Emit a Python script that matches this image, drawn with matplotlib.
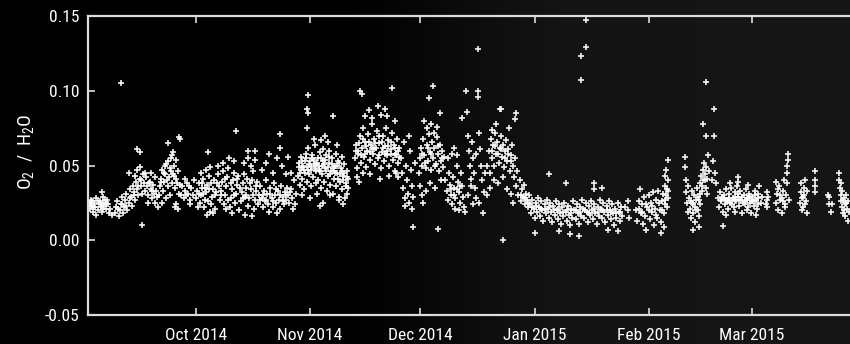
import numpy as np
import matplotlib
matplotlib.use("Agg")
import matplotlib.pyplot as plt
import matplotlib.dates as mdates
from matplotlib import font_manager

# O2/H2O measurements: (days since 2014-09-01, ratio)
sep_2014 = [
    (1.0, 0.024), (1.3, 0.021), (1.6, 0.027), (1.9, 0.023), (2.2, 0.019), (2.5, 0.025),
    (2.8, 0.022), (3.1, 0.028), (3.4, 0.020), (3.7, 0.024), (4.0, 0.026), (4.3, 0.022),
    (4.6, 0.019), (4.9, 0.025), (5.2, 0.023), (5.5, 0.027), (5.8, 0.021), (6.1, 0.024),
    (6.4, 0.018), (3.0, 0.017), (4.8, 0.029), (2.0, 0.026), (5.0, 0.021), (1.5, 0.023),
    (4.5, 0.032), (6.9, 0.021), (7.2, 0.017),
    (8.2, 0.018), (8.5, 0.022), (8.8, 0.026), (9.1, 0.016), (9.4, 0.020), (9.7, 0.024),
    (10.0, 0.029), (10.3, 0.018), (10.6, 0.022), (10.9, 0.027), (11.2, 0.031), (11.5, 0.020),
    (11.8, 0.025), (12.1, 0.034), (12.4, 0.029), (12.7, 0.023), (13.0, 0.036), (13.3, 0.032),
    (13.6, 0.027), (13.9, 0.039), (14.2, 0.034), (14.5, 0.030), (14.8, 0.041), (15.1, 0.036),
    (15.4, 0.031), (15.7, 0.044), (16.0, 0.038), (16.3, 0.033), (12.0, 0.045), (13.5, 0.043),
    (14.0, 0.047), (15.0, 0.049), (9.8, 0.105), (14.1, 0.061), (14.9, 0.059), (15.4, 0.010),
    (16.6, 0.042), (16.9, 0.036), (17.2, 0.030), (17.5, 0.039), (17.8, 0.034), (18.1, 0.028),
    (18.4, 0.037), (18.7, 0.031), (19.0, 0.025), (19.3, 0.033), (19.6, 0.029), (17.0, 0.025),
    (18.0, 0.045), (19.0, 0.042), (19.8, 0.022),
    (20.0, 0.030), (20.3, 0.036), (20.6, 0.041), (20.9, 0.047), (21.2, 0.033), (21.5, 0.039),
    (21.8, 0.044), (22.1, 0.051), (22.4, 0.036), (22.7, 0.042), (23.0, 0.048), (23.3, 0.055),
    (23.6, 0.038), (23.9, 0.044), (24.2, 0.050), (24.5, 0.035), (24.8, 0.041), (25.1, 0.046),
    (25.4, 0.031), (25.7, 0.037), (21.0, 0.025), (22.0, 0.028), (23.5, 0.057), (24.0, 0.059),
    (22.5, 0.053), (21.7, 0.050), (24.6, 0.054), (23.1, 0.030), (22.5, 0.065), (25.7, 0.068),
    (25.4, 0.069), (24.3, 0.022), (25.3, 0.021), (24.8, 0.024),
    (26.0, 0.030), (26.4, 0.036), (26.8, 0.028), (27.2, 0.033), (27.6, 0.038), (28.0, 0.031),
    (28.4, 0.027), (28.8, 0.035), (29.2, 0.030), (29.6, 0.040), (27.0, 0.041), (28.6, 0.024),
    (1.2, 0.025), (2.4, 0.022), (3.6, 0.026), (4.2, 0.024), (5.6, 0.024), (6.0, 0.027),
    (9.0, 0.021), (10.1, 0.024), (11.0, 0.023), (12.2, 0.028), (13.2, 0.030), (14.4, 0.036),
    (15.2, 0.040), (16.2, 0.045), (17.3, 0.038), (18.3, 0.033), (20.5, 0.039), (21.4, 0.045),
    (22.3, 0.040), (23.2, 0.046), (24.1, 0.043), (24.9, 0.038), (27.4, 0.030), (28.2, 0.036),
]

oct_2014 = [
    (30.2, 0.028), (30.5, 0.033), (30.8, 0.038), (31.1, 0.025), (31.4, 0.030), (31.7, 0.035),
    (32.0, 0.041), (32.3, 0.022), (32.6, 0.027), (32.9, 0.032), (33.2, 0.037), (33.5, 0.043),
    (33.8, 0.019), (34.1, 0.024), (34.4, 0.029), (34.7, 0.034), (35.0, 0.040), (35.3, 0.021),
    (30.6, 0.022), (31.5, 0.045), (32.8, 0.047), (34.0, 0.049), (33.0, 0.017), (34.6, 0.018),
    (31.9, 0.031), (33.6, 0.034), (33.3, 0.059),
    (35.6, 0.032), (35.9, 0.038), (36.2, 0.044), (36.5, 0.027), (36.8, 0.033), (37.1, 0.039),
    (37.4, 0.046), (37.7, 0.024), (38.0, 0.030), (38.3, 0.036), (38.6, 0.042), (38.9, 0.048),
    (39.2, 0.022), (39.5, 0.028), (39.8, 0.034), (40.1, 0.040), (40.4, 0.045), (40.7, 0.025),
    (41.0, 0.031), (41.3, 0.037), (41.6, 0.043), (41.9, 0.020), (36.0, 0.050), (37.5, 0.052),
    (39.0, 0.055), (40.5, 0.053), (38.2, 0.021), (40.0, 0.018), (41.0, 0.073),
    (42.2, 0.026), (42.5, 0.032), (42.8, 0.038), (43.1, 0.044), (43.4, 0.029), (43.7, 0.035),
    (44.0, 0.041), (44.3, 0.023), (44.6, 0.028), (44.9, 0.034), (45.2, 0.040), (45.5, 0.046),
    (45.8, 0.021), (46.1, 0.027), (46.4, 0.033), (46.7, 0.039), (47.0, 0.024), (47.3, 0.030),
    (44.2, 0.060), (46.1, 0.060), (44.2, 0.055), (46.1, 0.054), (43.0, 0.052), (45.0, 0.050),
    (43.5, 0.017), (45.3, 0.016),
    (47.6, 0.036), (47.9, 0.028), (48.2, 0.022), (48.5, 0.033), (48.8, 0.026), (49.1, 0.040),
    (49.4, 0.031), (49.7, 0.024), (50.0, 0.019), (50.3, 0.035), (50.6, 0.028), (50.9, 0.022),
    (51.2, 0.038), (51.5, 0.030), (51.8, 0.025), (52.1, 0.018), (52.4, 0.033), (52.7, 0.027),
    (53.0, 0.021), (53.3, 0.036), (53.6, 0.029), (53.9, 0.024), (54.2, 0.032), (54.5, 0.027),
    (54.8, 0.035), (55.1, 0.030), (55.4, 0.025), (48.0, 0.047), (49.0, 0.052), (50.0, 0.058),
    (51.0, 0.045), (52.0, 0.055), (52.9, 0.062), (53.5, 0.050), (54.5, 0.044), (55.0, 0.056),
    (52.9, 0.071),
    (55.8, 0.034), (56.2, 0.028), (56.6, 0.040), (57.0, 0.024), (57.3, 0.031), (56.4, 0.021),
    (55.9, 0.045),
    (30.9, 0.031), (31.8, 0.038), (32.5, 0.035), (33.4, 0.026), (34.3, 0.038), (35.2, 0.030),
    (36.3, 0.036), (37.0, 0.030), (37.9, 0.041), (38.8, 0.027), (39.6, 0.038), (40.3, 0.030),
    (41.2, 0.041), (42.0, 0.035), (42.9, 0.028), (43.8, 0.030), (44.7, 0.038), (45.6, 0.030),
    (46.5, 0.036), (47.4, 0.027), (48.3, 0.030), (49.2, 0.027), (50.1, 0.031), (51.0, 0.026),
    (51.9, 0.034), (52.8, 0.030), (53.7, 0.026), (54.6, 0.030), (55.5, 0.032),
]

nov_2014 = [
    (57.8, 0.043), (58.0, 0.052), (58.2, 0.037), (58.5, 0.047), (58.7, 0.056), (58.9, 0.041),
    (59.2, 0.050), (59.4, 0.034), (59.6, 0.045), (59.9, 0.058), (60.1, 0.039), (60.3, 0.049),
    (60.5, 0.062), (60.7, 0.044), (61.0, 0.053), (61.2, 0.036), (61.4, 0.047), (61.7, 0.057),
    (61.9, 0.042), (62.1, 0.051), (62.4, 0.064), (62.6, 0.038), (62.8, 0.046), (63.1, 0.055),
    (63.3, 0.040), (63.5, 0.050), (63.8, 0.059), (64.0, 0.035), (64.2, 0.044), (64.5, 0.053),
    (64.7, 0.061), (64.9, 0.039), (65.2, 0.048), (65.4, 0.057), (65.6, 0.033), (65.9, 0.043),
    (66.1, 0.052), (66.3, 0.060), (66.6, 0.037), (66.8, 0.046), (67.0, 0.055), (67.3, 0.031),
    (67.5, 0.041), (67.7, 0.050), (68.0, 0.058), (68.2, 0.036), (68.4, 0.045), (68.7, 0.053),
    (68.9, 0.029), (69.1, 0.039), (69.4, 0.048), (69.6, 0.056), (69.8, 0.034), (70.1, 0.043),
    (70.3, 0.051), (70.5, 0.028), (70.8, 0.038), (71.0, 0.046), (71.2, 0.031), (71.4, 0.041),
    (60.4, 0.097), (60.3, 0.088), (60.5, 0.085), (60.2, 0.075), (67.3, 0.083), (62.0, 0.068),
    (64.0, 0.067), (66.0, 0.066), (68.5, 0.064), (69.0, 0.027), (64.5, 0.025), (66.5, 0.030),
    (59.0, 0.030), (61.0, 0.028), (63.0, 0.031), (70.0, 0.024), (65.0, 0.070), (63.8, 0.023),
    (58.3, 0.045), (59.0, 0.049), (59.7, 0.053), (60.8, 0.051), (61.5, 0.055), (62.3, 0.048),
    (63.0, 0.052), (63.7, 0.046), (64.4, 0.050), (65.0, 0.054), (65.8, 0.049), (66.4, 0.044),
    (67.2, 0.048), (67.9, 0.045), (68.6, 0.041), (69.3, 0.044), (70.0, 0.040), (70.7, 0.036),
    (71.3, 0.035),
    (58.1, 0.049), (58.8, 0.053), (59.5, 0.047), (60.0, 0.055), (60.6, 0.047), (61.3, 0.050),
    (62.0, 0.054), (62.7, 0.051), (63.4, 0.047), (64.1, 0.055), (64.8, 0.051), (65.5, 0.046),
    (66.2, 0.056), (66.9, 0.051), (67.6, 0.046), (68.3, 0.050), (69.0, 0.052), (69.7, 0.046),
    (70.4, 0.045), (71.1, 0.042),
    (73.3, 0.055), (73.6, 0.064), (73.9, 0.048), (74.2, 0.058), (74.5, 0.070), (74.8, 0.052),
    (75.1, 0.062), (75.4, 0.075), (75.7, 0.056), (76.0, 0.066), (76.3, 0.049), (76.6, 0.060),
    (76.9, 0.071), (77.2, 0.054), (77.5, 0.064), (77.8, 0.078), (78.1, 0.058), (78.4, 0.068),
    (78.7, 0.051), (79.0, 0.062), (79.3, 0.073), (79.6, 0.055), (79.9, 0.065), (80.2, 0.048),
    (80.5, 0.059), (80.8, 0.070), (81.1, 0.053), (81.4, 0.063), (81.7, 0.075), (82.0, 0.057),
    (82.3, 0.067), (82.6, 0.050), (82.9, 0.061), (83.2, 0.072), (83.5, 0.054), (83.8, 0.064),
    (84.1, 0.046), (84.4, 0.058), (84.7, 0.068), (85.0, 0.052), (85.3, 0.062),
    (74.6, 0.100), (75.2, 0.098), (77.0, 0.087), (79.5, 0.090), (80.3, 0.084), (81.5, 0.088),
    (83.2, 0.102), (82.0, 0.083), (84.0, 0.080), (76.0, 0.083), (78.0, 0.082), (73.8, 0.042),
    (74.3, 0.039), (75.5, 0.045), (77.4, 0.044), (85.0, 0.042), (84.5, 0.045), (80.0, 0.041),
    (82.5, 0.043), (74.0, 0.060), (75.0, 0.057), (76.2, 0.063), (77.3, 0.059), (78.5, 0.061),
    (79.7, 0.057), (80.8, 0.062), (81.9, 0.060), (83.0, 0.058), (84.2, 0.062), (85.2, 0.056),
    (73.5, 0.060), (74.4, 0.065), (75.3, 0.068), (76.1, 0.058), (77.0, 0.066), (77.9, 0.062),
    (78.8, 0.065), (79.8, 0.070), (80.6, 0.066), (81.3, 0.058), (82.2, 0.063), (83.1, 0.066),
    (84.0, 0.057), (84.9, 0.060),
    (85.8, 0.055), (86.1, 0.045), (86.4, 0.035), (86.7, 0.028), (87.0, 0.050), (87.3, 0.040),
    (87.6, 0.031), (87.9, 0.025), (88.2, 0.060), (88.5, 0.047), (88.8, 0.036), (89.1, 0.029),
    (89.4, 0.052), (86.5, 0.066), (88.0, 0.070), (89.0, 0.009), (86.9, 0.023), (88.6, 0.021),
]

dec_2014 = [
    (90.6, 0.045), (90.9, 0.055), (91.2, 0.062), (91.5, 0.050), (91.8, 0.068), (92.1, 0.057),
    (92.4, 0.048), (92.7, 0.064), (93.0, 0.053), (93.3, 0.071), (93.6, 0.059), (93.9, 0.047),
    (94.2, 0.066), (94.5, 0.055), (94.8, 0.062), (95.1, 0.051), (95.4, 0.069), (95.7, 0.058),
    (96.0, 0.046), (96.3, 0.064), (96.6, 0.053), (96.9, 0.060), (97.2, 0.049), (97.5, 0.056),
    (94.4, 0.103), (93.3, 0.095), (96.3, 0.085), (92.0, 0.080), (94.0, 0.078), (95.5, 0.076),
    (91.0, 0.036), (91.3, 0.030), (91.6, 0.025), (92.5, 0.033), (93.5, 0.038), (95.0, 0.035),
    (96.5, 0.040), (95.8, 0.0075), (94.6, 0.072), (92.9, 0.075),
    (91.4, 0.058), (92.2, 0.052), (93.1, 0.062), (94.0, 0.058), (94.9, 0.050), (95.9, 0.063),
    (96.8, 0.055),
    (97.8, 0.040), (98.1, 0.033), (98.4, 0.027), (98.7, 0.045), (99.0, 0.037), (99.3, 0.030),
    (99.6, 0.024), (99.9, 0.042), (100.2, 0.035), (100.5, 0.028), (100.8, 0.050), (101.1, 0.039),
    (101.4, 0.032), (101.7, 0.025), (102.0, 0.045), (102.3, 0.036), (102.6, 0.029), (102.9, 0.022),
    (98.5, 0.055), (99.5, 0.058), (100.0, 0.062), (101.0, 0.057), (101.6, 0.020), (100.3, 0.021),
    (99.2, 0.034), (100.1, 0.030), (100.9, 0.034), (101.8, 0.036),
    (102.4, 0.082), (103.3, 0.100), (103.6, 0.086), (103.8, 0.070), (104.1, 0.060), (104.4, 0.050),
    (104.7, 0.041), (105.0, 0.066), (105.3, 0.055), (105.6, 0.045), (105.9, 0.035), (106.2, 0.028),
    (106.5, 0.100), (106.6, 0.096), (106.7, 0.128), (106.8, 0.072), (107.1, 0.061), (107.4, 0.050),
    (107.7, 0.040), (108.0, 0.018), (108.3, 0.032), (108.6, 0.045), (104.0, 0.030), (103.0, 0.019),
    (105.2, 0.024), (107.0, 0.025), (104.6, 0.036), (106.0, 0.058),
    (109.2, 0.050), (109.5, 0.060), (109.8, 0.045), (110.1, 0.068), (110.4, 0.055), (110.7, 0.064),
    (111.0, 0.050), (111.3, 0.072), (111.6, 0.058), (111.9, 0.066), (112.2, 0.052), (112.5, 0.062),
    (112.8, 0.070), (113.1, 0.056), (113.4, 0.064), (113.7, 0.049), (114.0, 0.060), (114.3, 0.067),
    (114.6, 0.053), (114.9, 0.061), (115.2, 0.046), (115.5, 0.057), (115.8, 0.064), (116.1, 0.050),
    (116.4, 0.042), (116.7, 0.055), (117.0, 0.036), (117.3, 0.046), (117.6, 0.030), (117.9, 0.040),
    (118.2, 0.026), (118.5, 0.034), (118.8, 0.029), (119.1, 0.037), (119.4, 0.024), (119.7, 0.031),
    (120.0, 0.027), (120.3, 0.022), (120.6, 0.030), (113.0, 0.088), (112.6, 0.088), (117.0, 0.085),
    (116.8, 0.081), (111.5, 0.078), (110.5, 0.074), (115.0, 0.075), (110.0, 0.035), (111.0, 0.040),
    (112.0, 0.038), (113.5, 0.042), (114.5, 0.034), (115.5, 0.031), (116.0, 0.025), (113.3, 0.000),
    (109.0, 0.030),
    (110.3, 0.060), (111.2, 0.063), (112.1, 0.058), (113.0, 0.061), (113.9, 0.055), (114.8, 0.058),
    (115.7, 0.053), (118.4, 0.030), (119.3, 0.028), (120.2, 0.025),
]

jan_2015 = [
    (120.8, 0.024), (121.1, 0.018), (121.4, 0.027), (121.7, 0.021), (122.0, 0.015), (122.3, 0.025),
    (122.6, 0.019), (122.9, 0.028), (123.2, 0.022), (123.5, 0.016), (123.8, 0.026), (124.1, 0.020),
    (124.4, 0.013), (124.7, 0.024), (125.0, 0.018), (125.3, 0.027), (125.6, 0.021), (125.9, 0.015),
    (126.2, 0.025), (126.5, 0.019), (126.8, 0.012), (127.1, 0.023), (127.4, 0.017), (127.7, 0.026),
    (128.0, 0.020), (128.3, 0.014), (128.6, 0.024), (128.9, 0.018), (129.2, 0.011), (129.5, 0.022),
    (129.8, 0.016), (130.1, 0.025), (130.4, 0.019), (130.7, 0.013), (131.0, 0.023), (131.3, 0.017),
    (131.6, 0.010), (131.9, 0.021), (132.2, 0.015), (132.5, 0.026), (132.8, 0.020), (133.1, 0.014),
    (133.4, 0.024), (133.7, 0.018), (134.0, 0.011), (134.3, 0.022), (134.6, 0.016), (134.9, 0.027),
    (135.2, 0.021), (135.5, 0.015), (135.8, 0.025), (136.1, 0.019), (136.4, 0.012), (136.7, 0.023),
    (137.0, 0.017), (137.3, 0.026), (137.6, 0.020), (137.9, 0.014), (138.2, 0.024), (138.5, 0.018),
    (138.8, 0.011), (139.1, 0.022), (139.4, 0.016), (139.7, 0.027), (140.0, 0.021), (140.3, 0.015),
    (140.6, 0.025), (140.9, 0.019), (141.2, 0.012), (141.5, 0.023), (141.8, 0.017), (142.1, 0.026),
    (142.4, 0.020), (142.7, 0.014), (143.0, 0.024), (143.3, 0.018), (143.6, 0.010), (143.9, 0.021),
    (144.2, 0.015), (144.5, 0.025), (144.8, 0.019), (145.1, 0.013), (145.4, 0.022), (145.7, 0.016),
    (126.0, 0.044), (130.6, 0.038), (138.1, 0.038), (138.2, 0.034), (140.3, 0.035), (134.5, 0.123),
    (134.5, 0.107), (136.0, 0.147), (136.0, 0.129), (122.1, 0.005), (128.5, 0.006), (131.5, 0.004),
    (134.0, 0.003), (142.0, 0.007), (144.5, 0.006), (146.5, 0.022), (147.2, 0.026), (147.4, 0.020),
    (147.6, 0.015),
    (121.2, 0.022), (122.5, 0.023), (123.6, 0.021), (124.8, 0.021), (126.0, 0.022), (127.2, 0.020),
    (128.4, 0.021), (129.6, 0.019), (130.8, 0.020), (132.0, 0.018), (133.2, 0.020), (134.4, 0.019),
    (135.6, 0.020), (136.8, 0.018), (138.0, 0.021), (139.2, 0.019), (140.4, 0.020), (141.6, 0.020),
    (142.8, 0.019), (144.0, 0.018), (145.2, 0.019),
]

feb_2015 = [
    (149.6, 0.020), (149.9, 0.013), (150.2, 0.026), (150.5, 0.034), (150.8, 0.018), (151.1, 0.024),
    (151.4, 0.011), (151.7, 0.029), (152.0, 0.016), (152.3, 0.007), (152.6, 0.022), (152.9, 0.030),
    (153.2, 0.014), (153.5, 0.025), (153.8, 0.019), (154.1, 0.032), (154.4, 0.010), (154.7, 0.021),
    (155.0, 0.027), (155.3, 0.015), (155.6, 0.033), (155.9, 0.020), (156.2, 0.012), (156.3, 0.005),
    (156.5, 0.026), (156.8, 0.031), (157.1, 0.018), (157.3, 0.036), (157.5, 0.024), (157.7, 0.030),
    (157.9, 0.034), (158.1, 0.040), (158.2, 0.054), (157.6, 0.047), (158.3, 0.028), (158.0, 0.022),
    (157.2, 0.009), (157.4, 0.043),
    (150.3, 0.021), (151.2, 0.019), (152.1, 0.024), (153.0, 0.020), (153.9, 0.023), (154.8, 0.017),
    (155.7, 0.025), (156.6, 0.020), (157.5, 0.027), (158.2, 0.033),
    (162.8, 0.056), (162.8, 0.049), (163.0, 0.040), (163.1, 0.032), (163.3, 0.025), (163.5, 0.019),
    (163.7, 0.036), (164.0, 0.028), (164.2, 0.021), (164.4, 0.015), (164.6, 0.033), (164.8, 0.025),
    (165.0, 0.018), (165.2, 0.030), (165.4, 0.022), (165.6, 0.012), (165.8, 0.027), (166.0, 0.035),
    (166.2, 0.020), (166.4, 0.029), (166.6, 0.009), (166.8, 0.038), (167.0, 0.031), (167.2, 0.043),
    (167.4, 0.036), (167.6, 0.078), (167.6, 0.047), (167.8, 0.040), (168.0, 0.052), (168.2, 0.044),
    (168.4, 0.106), (168.4, 0.070), (168.4, 0.035), (168.6, 0.049), (168.8, 0.041), (169.0, 0.057),
    (169.4, 0.046), (170.0, 0.040), (170.3, 0.053), (170.7, 0.088), (170.6, 0.070), (171.0, 0.045),
    (171.3, 0.038), (166.5, 0.016), (167.0, 0.024), (165.0, 0.007),
    (164.3, 0.026), (165.1, 0.024), (165.9, 0.020), (166.7, 0.027), (167.5, 0.033), (168.3, 0.040),
    (168.7, 0.031),
]

mar_2015 = [
    (171.8, 0.028), (172.1, 0.022), (172.4, 0.032), (172.7, 0.026), (173.0, 0.019), (173.0, 0.0097),
    (173.3, 0.030), (173.6, 0.024), (173.9, 0.034), (174.2, 0.027), (174.5, 0.021), (174.8, 0.031),
    (175.1, 0.025), (175.4, 0.035), (175.7, 0.028), (176.0, 0.022), (176.3, 0.032), (176.6, 0.026),
    (176.9, 0.036), (177.1, 0.0425), (177.1, 0.039), (177.2, 0.029), (177.5, 0.023), (177.8, 0.033),
    (178.1, 0.027), (178.4, 0.018), (178.7, 0.030), (179.0, 0.024), (179.3, 0.034), (179.6, 0.028),
    (179.9, 0.022), (180.2, 0.031), (180.5, 0.025), (180.8, 0.018), (181.1, 0.029), (181.4, 0.023),
    (181.7, 0.033), (182.0, 0.027), (182.3, 0.021), (182.6, 0.031), (183.0, 0.036), (183.3, 0.025),
    (183.6, 0.029), (174.0, 0.017), (176.5, 0.019), (179.5, 0.020), (182.0, 0.017), (175.0, 0.038),
    (180.0, 0.037), (172.5, 0.027), (173.5, 0.028), (174.5, 0.026), (175.5, 0.027), (176.5, 0.029),
    (177.5, 0.027), (178.5, 0.025), (179.5, 0.027), (180.5, 0.029), (181.5, 0.026), (182.5, 0.028),
    (172.9, 0.029), (173.8, 0.027), (174.7, 0.028), (175.6, 0.024), (176.4, 0.027), (177.3, 0.031),
    (178.2, 0.029), (179.1, 0.026), (180.0, 0.028), (180.9, 0.026), (181.8, 0.030), (182.7, 0.024),
    (185.0, 0.032), (185.0, 0.027), (185.0, 0.022), (185.2, 0.029), (184.8, 0.024),
    (187.5, 0.025), (187.8, 0.031), (188.1, 0.020), (188.4, 0.036), (188.7, 0.027), (189.0, 0.018),
    (189.3, 0.033), (189.6, 0.040), (189.9, 0.024), (190.2, 0.030), (190.5, 0.045), (190.6, 0.050),
    (190.7, 0.054), (190.7, 0.058), (190.4, 0.038), (190.0, 0.022), (189.2, 0.028), (188.0, 0.034),
    (187.6, 0.039), (191.0, 0.027), (188.5, 0.030), (189.5, 0.026),
    (194.0, 0.025), (194.2, 0.032), (194.4, 0.038), (194.6, 0.028), (194.8, 0.022), (195.0, 0.035),
    (195.2, 0.030), (195.4, 0.040), (195.6, 0.026), (195.8, 0.018), (196.0, 0.033), (194.5, 0.020),
    (194.9, 0.029), (195.3, 0.024),
    (198.0, 0.032), (198.1, 0.036), (198.0, 0.040), (198.2, 0.046),
    (201.6, 0.030), (201.8, 0.024), (202.0, 0.029), (202.3, 0.019), (202.6, 0.024), (204.5, 0.045),
    (204.7, 0.040), (204.8, 0.035), (205.0, 0.030), (205.2, 0.026), (205.4, 0.022), (205.5, 0.033),
    (205.7, 0.018), (205.9, 0.028), (206.1, 0.024), (206.3, 0.016), (206.5, 0.030), (206.7, 0.021),
    (206.9, 0.026), (207.1, 0.013), (207.3, 0.019), (205.2, 0.038), (205.6, 0.027), (206.0, 0.020),
    (206.6, 0.025),
]

tick_dates = ["2014-10-01", "2014-11-01", "2014-12-01", "2015-01-01", "2015-02-01", "2015-03-01"]
tick_labels = ["Oct 2014", "Nov 2014", "Dec 2014", "Jan 2015", "Feb 2015", "Mar 2015"]
y_ticks = [-0.05, 0.00, 0.05, 0.10, 0.15]
y_tick_labels = ["-0.05", "0.00", "0.05", "0.10", "0.15"]

# pick a narrow sans face when one is available
installed = {f.name for f in font_manager.fontManager.ttflist}
narrow = [n for n in ("Roboto Condensed", "Liberation Sans Narrow", "Noto Sans Condensed",
                      "Open Sans Condensed", "DejaVu Sans Condensed") if n in installed]
if narrow:
    face, fsize = narrow[0], 12.5
else:
    face, fsize = "Liberation Sans", 11.5

plt.rcParams["font.family"] = [face, "DejaVu Sans"]
plt.rcParams["mathtext.fontset"] = "custom"
plt.rcParams["mathtext.rm"] = face
plt.rcParams["mathtext.it"] = face
plt.rcParams["mathtext.bf"] = face

points = sep_2014 + oct_2014 + nov_2014 + dec_2014 + jan_2015 + feb_2015 + mar_2015
days = np.array([p[0] for p in points])
ratio = np.array([p[1] for p in points])

start = mdates.date2num(np.datetime64("2014-09-01"))
x = start + days

W, H = 850, 344
fig = plt.figure(figsize=(W / 100, H / 100), dpi=100, facecolor="black")

# dark backdrop, black on the left, faintly grey towards the right
bg = fig.add_axes([0, 0, 1, 1], zorder=-10)
bg.axis("off")
shade = np.interp(np.linspace(0, 1, 400), [0.0, 0.40, 0.66, 1.0], [0.0, 0.0, 0.08, 0.085])
bg.imshow(np.dstack([shade, shade, shade]), aspect="auto", extent=[0, 1, 0, 1])
bg.set_xlim(0, 1)
bg.set_ylim(0, 1)

ax = fig.add_axes([88 / W, 29 / H, 782 / W, 299 / H])
ax.patch.set_alpha(0)

ax.plot(x, ratio, linestyle="none", marker="+", markersize=5, markeredgewidth=1.2,
        color="white", alpha=0.95)

ax.set_xlim(start + 0.8, start + 213.0)
ax.set_ylim(-0.05, 0.15)

ax.set_xticks([mdates.date2num(np.datetime64(d)) for d in tick_dates])
ax.set_xticklabels(tick_labels)
ax.set_yticks(y_ticks)
ax.set_yticklabels(y_tick_labels)

spine_col = "#dcdcdc"
for s in ax.spines.values():
    s.set_color(spine_col)
    s.set_linewidth(1.6)

ax.tick_params(axis="x", which="both", direction="in", top=True, bottom=True,
               length=5, width=1.2, color=spine_col, labelcolor="white",
               labelsize=fsize, pad=9.5)
ax.tick_params(axis="y", which="both", direction="in", left=True, right=False,
               length=5, width=1.2, color=spine_col, labelcolor="white",
               labelsize=fsize, pad=6)

ax.set_ylabel("O$_2$  /  H$_2$O", color="white", fontsize=fsize + 1.5)
ax.yaxis.set_label_coords(-0.066, 0.545)

fig.savefig("out.png", dpi=100, facecolor="black")
